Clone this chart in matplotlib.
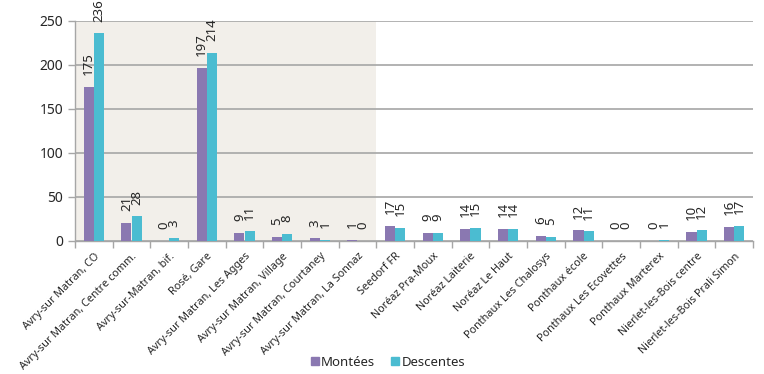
import matplotlib
matplotlib.use("Agg")
import matplotlib.pyplot as plt
import numpy as np
from matplotlib.patches import Patch

categories = [
    "Avry-sur Matran, CO", "Avry-sur Matran, Centre comm.", "Avry-sur-Matran, bif.",
    "Rosé, Gare", "Avry-sur Matran, Les Agges", "Avry-sur Matran, Village",
    "Avry-sur Matran, Courtaney", "Avry-sur Matran, La Sonnaz", "Seedorf FR",
    "Noréaz Pra-Moux", "Noréaz Laiterie", "Noréaz Le Haut", "Ponthaux Les Chalosys",
    "Ponthaux école", "Ponthaux Les Ecovettes", "Ponthaux Marterex",
    "Nierlet-les-Bois centre", "Nierlet-les-Bois Prali Simon",
]
montees = [175, 21, 0, 197, 9, 5, 3, 1, 17, 9, 14, 14, 6, 12, 0, 0, 10, 16]
descentes = [236, 28, 3, 214, 11, 8, 1, 0, 15, 9, 15, 14, 5, 11, 0, 1, 12, 17]
series_names = ["Montées", "Descentes"]
shaded_count = 8
y_ticks = [0, 50, 100, 150, 200, 250]

plt.rcParams['font.family'] = ['Noto Sans', 'DejaVu Sans']

c_m = "#8A78B1"
c_d = "#4BBCD1"
grid_c = "#A6A6A6"
txt_c = "#262626"

fig = plt.figure(figsize=(7.64, 3.74), dpi=100)
ax = fig.add_axes([75/764, 1-241/374, (753-75)/764, (241-21)/374])

x = np.arange(len(categories))
w = 0.27
ax.axvspan(-0.5, shaded_count - 0.5, color="#F2EFEA", zorder=0, lw=0)
ax.bar(x - w/2, montees, w, color=c_m, zorder=3)
ax.bar(x + w/2, descentes, w, color=c_d, zorder=3)

for xs, vals in ((x - w/2, montees), (x + w/2, descentes)):
    for xi, v in zip(xs, vals):
        ax.annotate(str(v), (xi, v), xytext=(0, 8.5), textcoords="offset points",
                    rotation=90, ha="center", va="bottom", fontsize=9.5, color=txt_c,
                    annotation_clip=False)

ax.set_xlim(-0.5, len(categories) - 0.5)
ax.set_ylim(0, 250)
ax.set_yticks(y_ticks)
ax.yaxis.grid(True, color=grid_c, lw=1.2, zorder=1)
ax.set_axisbelow(True)
ax.tick_params(axis="y", labelsize=10, colors=grid_c, labelcolor=txt_c, length=5, width=1)

ax.set_xticks(x)
ax.set_xticklabels(categories, rotation=45, ha="right", rotation_mode="anchor",
                   fontsize=7.8, color=txt_c)
ax.tick_params(axis="x", length=0, pad=7)
ax.set_xticks(np.arange(-0.5, len(categories)), minor=True)
ax.tick_params(axis="x", which="minor", length=5, color=grid_c, width=1)

for s in ("top", "right"):
    ax.spines[s].set_visible(False)
for s in ("left", "bottom"):
    ax.spines[s].set_color(grid_c)
    ax.spines[s].set_linewidth(1)

handles = [Patch(color=c_m), Patch(color=c_d)]
fig.legend(handles, series_names, loc="center", bbox_to_anchor=(388/764, 1-362/374),
           ncol=2, frameon=False, fontsize=9.5, handlelength=0.6, handleheight=0.6,
           handletextpad=0.2, columnspacing=1.2, labelcolor=txt_c)

fig.savefig("out.png", dpi=100)
